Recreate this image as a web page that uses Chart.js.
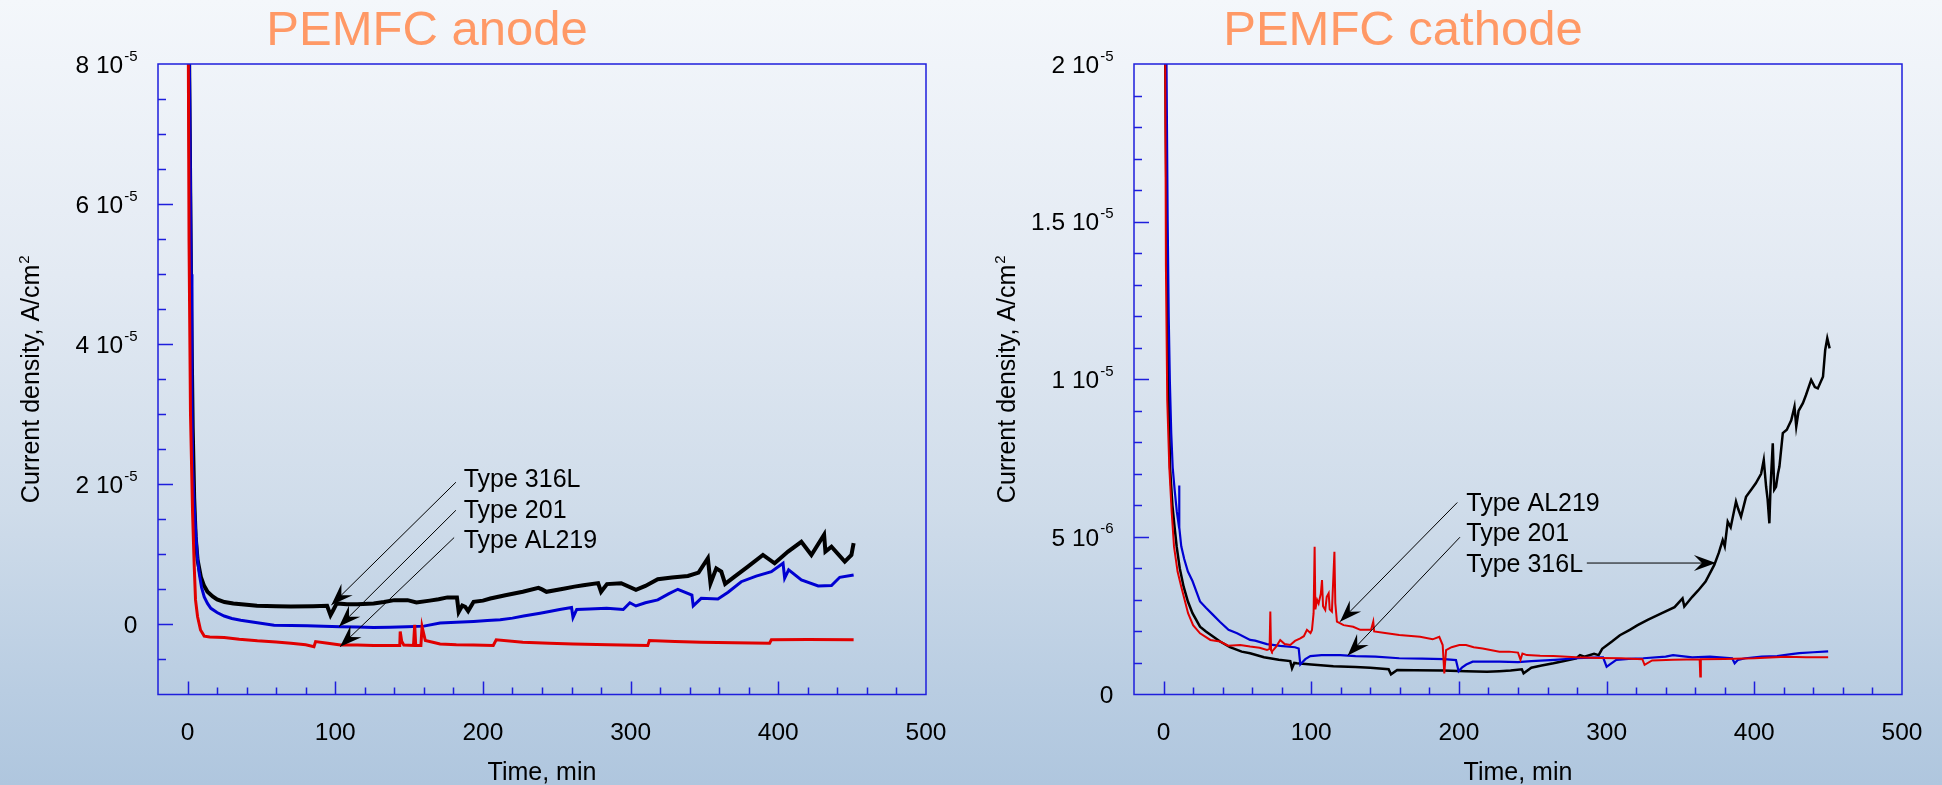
<!DOCTYPE html>
<html>
<head>
<meta charset="utf-8">
<title>PEMFC anode / cathode</title>
<script src="https://cdn.jsdelivr.net/npm/chart.js@4.4.1/dist/chart.umd.min.js"></script>
<style>
  html, body { margin: 0; padding: 0; }
  body {
    width: 1942px; height: 785px; overflow: hidden; position: relative;
    background: linear-gradient(to bottom, #f4f7fb 0%, #e3eaf3 35%, #cfdcea 65%, #b9cde2 88%, #afc6de 100%);
  }
  canvas { position: absolute; top: 0; }
  #anode { left: 0; }
  #cathode { left: 971px; }
</style>
</head>
<body>
<canvas id="anode" width="971" height="785"></canvas>
<canvas id="cathode" width="971" height="785"></canvas>
<script>
// Current density vs time for three steels, PEMFC anode and cathode conditions
// values in 1e-6 A/cm2, time in min

const xTicks = [0, 100, 200, 300, 400, 500];

const anodeYTicks = [0, 20, 40, 60, 80];
const anodeYLabels = [['0', ''], ['2 10', '-5'], ['4 10', '-5'], ['6 10', '-5'], ['8 10', '-5']];

const cathodeYTicks = [0, 5, 10, 15, 20];
const cathodeYLabels = [['0', ''], ['5 10', '-6'], ['1 10', '-5'], ['1.5 10', '-5'], ['2 10', '-5']];

// [time, current density]
const anode316L = [[0.3,100],[1.5,70],[2.5,45],[3.5,28],[4.5,18],[5.5,12.5],[6.8,9.2],[9,6.8],[11,5.6],[13.5,4.66],[17,4.0],[20,3.57],[25,3.2],[31,3.0],[40,2.8],[47,2.66],[60,2.6],[70,2.57],[85,2.6],[94.5,2.66],[96.8,1.33],[98.5,2.0],[101,3.0],[108,2.9],[115,2.9],[126,3.0],[133,3.2],[140,3.47],[149,3.47],[155,3.14],[164,3.4],[170,3.6],[176,3.86],[182.4,3.86],[183.6,1.8],[186,2.7],[188,2.5],[190,1.9],[193.7,3.23],[200,3.4],[205,3.7],[216,4.2],[227,4.66],[237.6,5.23],[240,5.0],[243,4.66],[254.5,5.1],[262,5.4],[268,5.6],[278,5.9],[280,4.66],[284,5.76],[293.6,5.88],[303.6,4.93],[310,5.5],[318.4,6.45],[328,6.7],[338.8,6.92],[346,7.4],[352.3,9.45],[354.1,5.88],[358,8.0],[361.4,7.54],[364,5.78],[370.4,6.82],[379.4,8.25],[389.6,9.92],[397.5,8.73],[406.6,10.4],[415.6,11.8],[422.4,9.92],[431,12.8],[431.9,10.4],[436,11.1],[445,8.97],[449.5,9.92],[451,11.6]];

const anode201 = [[0.3,100],[1.5,75],[2.5,50],[3,32],[3.5,22.5],[4.5,17],[5.6,13],[6.7,9.5],[7.9,7.3],[9.5,5.3],[11.3,3.94],[13.5,3.0],[15.8,2.3],[20,1.7],[24.8,1.2],[30,0.85],[36,0.6],[45,0.3],[58.6,-0.1],[70,-0.15],[81,-0.2],[92,-0.25],[103.6,-0.33],[115,-0.38],[126,-0.43],[137,-0.4],[148.6,-0.33],[160,-0.24],[171,0.19],[182,0.3],[193.7,0.43],[203,0.55],[211.7,0.67],[220,0.9],[227.5,1.2],[238.7,1.6],[245,1.85],[252,2.14],[260,2.43],[261,1.0],[263.5,2.14],[272,2.2],[283.8,2.3],[295,2.14],[299.5,3.1],[303.6,2.64],[310,3.1],[318.4,3.5],[326,4.4],[332,5.02],[341.5,4.2],[342.4,2.64],[347.8,3.73],[359.1,3.64],[366,4.6],[374.9,6.1],[385,6.9],[395.3,7.54],[403.2,8.73],[404.3,6.6],[407,7.78],[415.6,6.35],[427,5.5],[436,5.55],[441.6,6.73],[451,7.07]];

const anodeAL219 = [[0.2,100],[1,55],[2,30],[3.4,16],[4.5,8.5],[5.4,3.5],[6.8,1.1],[8.8,-0.8],[11.3,-1.67],[15,-1.8],[24.8,-1.86],[35,-2.1],[47.3,-2.33],[60,-2.5],[70,-2.7],[80,-2.9],[85.6,-3.17],[86.7,-2.45],[95,-2.7],[103.6,-2.93],[115,-2.95],[126,-3.0],[135,-3.0],[143.7,-3.0],[144,-1.0],[145,-2.4],[146.4,-2.93],[153,-3.0],[153.8,-0.07],[154.5,-3.0],[158,-3.0],[158.8,-0.33],[161,-2.3],[171,-2.8],[182,-2.9],[193.7,-2.93],[207,-3.0],[209,-2.2],[227,-2.55],[245,-2.7],[261,-2.8],[285,-2.9],[311.6,-3.02],[312.7,-2.3],[330,-2.45],[347.8,-2.55],[370,-2.6],[394.1,-2.69],[395.3,-2.2],[420,-2.15],[451,-2.2]];

const cathode316L = [[0.5,25],[1.5,18],[2.5,13],[3.5,9.5],[4.4,7.2],[6,6.0],[7.5,5.3],[8.9,4.69],[11,4.0],[13.6,3.42],[16.5,2.95],[19.6,2.58],[24.7,2.15],[28.7,2.0],[38.3,1.68],[45,1.5],[52.9,1.36],[58.6,1.31],[68,1.18],[78,1.1],[85.8,1.06],[87,0.83],[88.5,1.0],[90.3,0.99],[100,0.95],[115,0.9],[130,0.87],[140,0.85],[152.4,0.8],[154,0.64],[158.2,0.78],[170,0.77],[188.8,0.76],[205,0.74],[219,0.72],[227.4,0.74],[235,0.76],[242.6,0.8],[243.8,0.67],[249,0.85],[256,0.92],[264,0.99],[272,1.07],[279.5,1.15],[282,1.25],[285,1.2],[291.5,1.29],[294.6,1.25],[297,1.45],[303.6,1.68],[309,1.88],[315.7,2.05],[321,2.2],[327.8,2.37],[336,2.55],[346,2.77],[351.4,3.05],[352.6,2.79],[358,3.1],[362,3.3],[367,3.58],[372.9,4.11],[376,4.5],[378.6,4.9],[380,4.7],[382,5.48],[384,5.3],[387.6,6.12],[389,5.9],[391,5.64],[394.4,6.27],[398,6.5],[401,6.7],[404.6,7.0],[406.4,7.44],[408,6.59],[409,6.2],[410.2,5.43],[411,6.6],[412.5,7.97],[413.5,6.5],[414.7,6.59],[416,7.0],[417,7.23],[419.3,8.29],[422,8.4],[425,8.7],[427.2,9.13],[428.4,8.5],[430,9.0],[432.9,9.24],[435,9.5],[438.5,9.98],[441,9.75],[443,9.71],[446.5,10.08],[448,10.93],[449.4,11.3],[451,10.98]];

const cathode201 = [[1,25],[2,20],[2.8,15],[3.5,12],[4.3,9.9],[5.2,8.3],[6.2,7.2],[7.5,6.5],[9,5.8],[10.5,5.3],[10.6,6.63],[10.7,5.3],[12,4.7],[14,4.3],[16.5,3.9],[19.6,3.6],[24.7,2.95],[28.7,2.75],[33,2.55],[38.3,2.3],[44,2.05],[49.8,1.94],[58.6,1.73],[62,1.71],[70,1.6],[79,1.54],[89,1.5],[91.5,1.46],[92.6,0.95],[94,1.02],[96,1.12],[99.4,1.22],[107,1.25],[119.7,1.25],[130,1.22],[143.5,1.2],[159.6,1.15],[175,1.14],[190,1.12],[198,1.09],[199.8,0.74],[202,0.85],[205,0.95],[209.3,1.04],[227.4,1.04],[240,1.03],[249,1.06],[265,1.1],[279.5,1.15],[290,1.17],[297.6,1.18],[300,0.88],[302,0.95],[306.6,1.1],[315,1.13],[324.8,1.15],[340,1.2],[345,1.25],[358,1.18],[370,1.2],[385,1.15],[386.7,0.99],[389,1.1],[394,1.15],[405,1.2],[415.4,1.22],[425,1.28],[430.5,1.31],[440,1.34],[450,1.37]];

const cathodeAL219 = [[0.8,25],[1.6,13.6],[2.5,9.34],[3.9,7.2],[5.5,5.8],[7.1,4.69],[9.5,3.9],[12,3.42],[16.6,2.58],[20,2.2],[24.7,1.94],[31.7,1.73],[38.3,1.68],[43.8,1.55],[51.9,1.57],[58.6,1.52],[65,1.48],[70,1.41],[71.8,1.45],[72.3,2.63],[72.8,1.4],[73.4,1.36],[76,1.5],[79,1.73],[82,1.6],[85.8,1.57],[89,1.7],[92.6,1.78],[95,1.85],[97.1,2.05],[99.5,1.95],[100.5,2.05],[101.6,2.58],[102.3,4.69],[102.8,2.7],[104,3.0],[105,2.89],[106.5,3.2],[107.3,3.63],[108,2.8],[109.5,2.68],[110.5,3.1],[111.8,3.21],[112.5,2.7],[114,2.63],[115.7,4.53],[116.3,2.9],[117.4,2.31],[121.9,2.2],[128.4,2.15],[133.2,2.05],[140.5,2.05],[142,2.31],[142.6,2.0],[150,1.95],[159.6,1.89],[173.7,1.83],[182.2,1.75],[186.7,1.83],[189,1.57],[190.1,0.67],[191.3,1.41],[195,1.5],[200.3,1.57],[204.8,1.57],[210,1.5],[216.1,1.46],[227.4,1.36],[234,1.36],[240,1.33],[241.7,1.1],[243,1.3],[246,1.25],[255,1.23],[264,1.22],[279.5,1.18],[295,1.16],[309.7,1.15],[324.2,1.12],[325.7,0.94],[330.8,1.08],[345,1.1],[363,1.12],[363.4,0.57],[363.8,1.12],[380,1.13],[400,1.15],[421.5,1.2],[435,1.18],[450,1.18]];

const axisColor = '#1e1edc';
const fontFamily = '"Liberation Sans", Arial, sans-serif';

function arrowHead(ctx, x0, y0, x1, y1) {
  const ang = Math.atan2(y1 - y0, x1 - x0);
  ctx.save();
  ctx.translate(x1, y1);
  ctx.rotate(ang);
  ctx.beginPath();
  ctx.moveTo(0, 0);
  ctx.lineTo(-22, -8);
  ctx.lineTo(-14, 0);
  ctx.lineTo(-22, 8);
  ctx.closePath();
  ctx.fill();
  ctx.restore();
}

// frame, inward ticks, labels with exponents, titles and arrow notes
const panelFrame = {
  id: 'panelFrame',
  afterDatasetsDraw(chart, args, o) {
    const { ctx, chartArea: a } = chart;
    const x = chart.scales.x;
    const y = chart.scales.y;
    ctx.save();

    ctx.strokeStyle = axisColor;
    ctx.lineWidth = 1.5;
    ctx.strokeRect(a.left, a.top, a.right - a.left, a.bottom - a.top);

    ctx.beginPath();
    for (let v = x.min + 20; v < x.max; v += 20) {
      const px = Math.round(x.getPixelForValue(v)) + 0.5;
      const len = v % 100 === 0 ? 13 : 7;
      ctx.moveTo(px, a.bottom);
      ctx.lineTo(px, a.bottom - len);
    }
    for (let v = y.min + o.yMinor; v < y.max - 1e-9; v += o.yMinor) {
      const py = Math.round(y.getPixelForValue(v)) + 0.5;
      const major = Math.abs(v / o.yMajor - Math.round(v / o.yMajor)) < 1e-6;
      ctx.moveTo(a.left, py);
      ctx.lineTo(a.left + (major ? 15 : 8), py);
    }
    ctx.stroke();

    ctx.fillStyle = '#000';
    ctx.textBaseline = 'alphabetic';

    // x tick labels
    ctx.font = '24.5px ' + fontFamily;
    ctx.textAlign = 'center';
    xTicks.forEach(v => ctx.fillText(String(v), x.getPixelForValue(v), a.bottom + 45));

    // y tick labels, right aligned, with raised exponent
    ctx.textAlign = 'left';
    o.yTicks.forEach((v, i) => {
      const [base, exp] = o.yLabels[i];
      const py = y.getPixelForValue(v);
      ctx.font = '24.5px ' + fontFamily;
      const wb = ctx.measureText(base).width;
      ctx.font = '15px ' + fontFamily;
      const we = exp ? ctx.measureText(exp).width + 1 : 0;
      const left = a.left - 20.5 - wb - we;
      ctx.font = '24.5px ' + fontFamily;
      ctx.fillText(base, left, py + 8.8);
      if (exp) {
        ctx.font = '15px ' + fontFamily;
        ctx.fillText(exp, left + wb + 1, py - 3.5);
      }
    });

    // axis titles
    ctx.font = '25px ' + fontFamily;
    ctx.textAlign = 'center';
    ctx.fillText('Time, min', (a.left + a.right) / 2, a.bottom + 85);

    ctx.save();
    ctx.translate(a.left - 119, (a.top + a.bottom) / 2);
    ctx.rotate(-Math.PI / 2);
    ctx.textAlign = 'left';
    const yTitle = 'Current density, A/cm';
    ctx.font = '25px ' + fontFamily;
    const wt = ctx.measureText(yTitle).width;
    ctx.font = '15px ' + fontFamily;
    const ws = ctx.measureText('2').width;
    const start = -(wt + ws + 1) / 2;
    ctx.font = '25px ' + fontFamily;
    ctx.fillText(yTitle, start, 0);
    ctx.font = '15px ' + fontFamily;
    ctx.fillText('2', start + wt + 1, -10);
    ctx.restore();

    // panel title
    ctx.fillStyle = '#ff9966';
    ctx.font = '49px ' + fontFamily;
    ctx.textAlign = 'center';
    ctx.fillText(o.title, a.left + 269, 45);

    // arrow notes
    ctx.fillStyle = '#000';
    ctx.strokeStyle = '#000';
    ctx.lineWidth = 1;
    ctx.font = '25px ' + fontFamily;
    ctx.textAlign = 'left';
    o.notes.forEach(n => {
      ctx.fillText(n.text, x.getPixelForValue(n.tx), y.getPixelForValue(n.ty));
      const x0 = x.getPixelForValue(n.from[0]), y0 = y.getPixelForValue(n.from[1]);
      const x1 = x.getPixelForValue(n.to[0]), y1 = y.getPixelForValue(n.to[1]);
      ctx.beginPath();
      ctx.moveTo(x0, y0);
      ctx.lineTo(x1, y1);
      ctx.stroke();
      arrowHead(ctx, x0, y0, x1, y1);
    });

    ctx.restore();
  }
};

const pts = arr => arr.map(([t, v]) => ({ x: t, y: v }));

function makePanel(id, cfg) {
  new Chart(document.getElementById(id), {
    type: 'line',
    data: {
      datasets: cfg.series.map(s => ({
        label: s.label,
        data: pts(s.data),
        borderColor: s.color,
        borderWidth: s.width,
        pointRadius: 0,
        tension: 0,
        fill: false
      }))
    },
    options: {
      responsive: false,
      animation: false,
      layout: { padding: cfg.padding },
      scales: {
        x: { type: 'linear', display: false, min: -20, max: 500 },
        y: { type: 'linear', display: false, min: cfg.yMin, max: cfg.yMax }
      },
      plugins: {
        legend: { display: false },
        tooltip: { enabled: false },
        panelFrame: cfg.frame
      }
    },
    plugins: [panelFrame]
  });
}

// first dataset ends up on top
makePanel('anode', {
  padding: { left: 158, right: 45, top: 64, bottom: 90.5 },
  yMin: -10,
  yMax: 80,
  series: [
    { label: 'Type AL219', data: anodeAL219, color: '#e00000', width: 3 },
    { label: 'Type 201', data: anode201, color: '#0000d2', width: 3 },
    { label: 'Type 316L', data: anode316L, color: '#000000', width: 4 }
  ],
  frame: {
    title: 'PEMFC anode',
    yMinor: 5,
    yMajor: 20,
    yTicks: anodeYTicks,
    yLabels: anodeYLabels,
    notes: [
      { text: 'Type 316L', tx: 187, ty: 19.6, from: [181.7, 20.3], to: [97.4, 2.78] },
      { text: 'Type 201', tx: 187, ty: 15.2, from: [181.7, 16.3], to: [102.6, -0.31] },
      { text: 'Type AL219', tx: 187, ty: 10.96, from: [180.5, 12.4], to: [103.3, -3.17] }
    ]
  }
});

makePanel('cathode', {
  padding: { left: 163, right: 40, top: 64, bottom: 90.5 },
  yMin: 0,
  yMax: 20,
  series: [
    { label: 'Type AL219', data: cathodeAL219, color: '#e00000', width: 2 },
    { label: 'Type 201', data: cathode201, color: '#0000d2', width: 2.2 },
    { label: 'Type 316L', data: cathode316L, color: '#000000', width: 2.5 }
  ],
  frame: {
    title: 'PEMFC cathode',
    yMinor: 1,
    yMajor: 5,
    yTicks: cathodeYTicks,
    yLabels: cathodeYLabels,
    notes: [
      { text: 'Type AL219', tx: 205, ty: 5.83, from: [198.9, 6.09], to: [119.5, 2.31] },
      { text: 'Type 201', tx: 205, ty: 4.87, from: [200.7, 4.99], to: [124.7, 1.24] },
      { text: 'Type 316L', tx: 205, ty: 3.9, from: [286.6, 4.17], to: [374, 4.17] }
    ]
  }
});
</script>
</body>
</html>
